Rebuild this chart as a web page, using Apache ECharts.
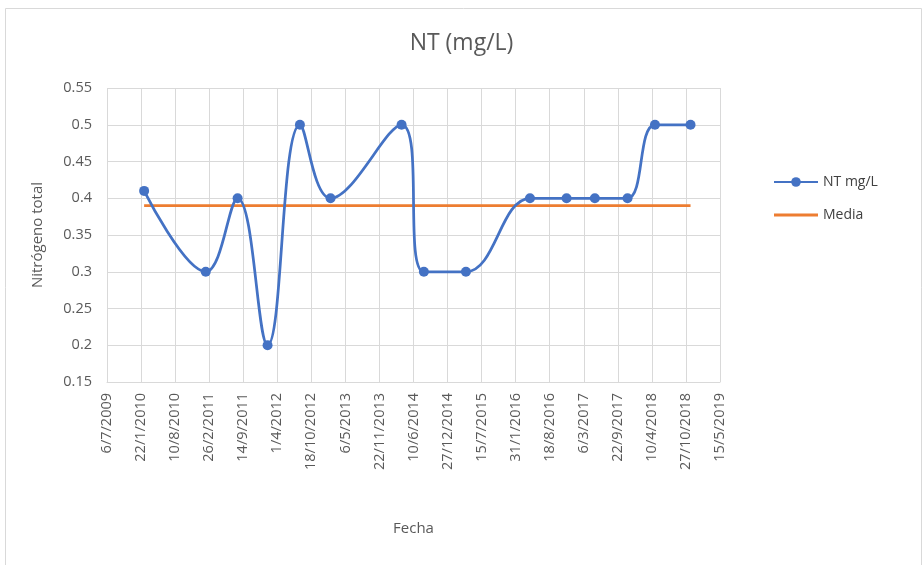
<!DOCTYPE html>
<html>
<head>
<meta charset="utf-8">
<script src="https://cdn.jsdelivr.net/npm/echarts@6/dist/echarts.min.js"></script>
<style>html,body{margin:0;padding:0;background:#fff}#c{width:923px;height:565px}</style>
</head>
<body>
<div id="c"></div>
<script>
// Data
var dates = ['2010-02-09','2011-02-06','2011-08-12','2012-02-04','2012-08-12','2013-02-08','2014-04-01','2014-08-10','2015-04-14','2016-04-24','2016-11-25','2017-05-10','2017-11-18','2018-04-28','2018-11-23'];
var ntValues = [0.41,0.30,0.40,0.20,0.50,0.40,0.50,0.30,0.30,0.40,0.40,0.40,0.40,0.50,0.50];
var mediaValues = [0.39,0.39,0.39,0.39,0.39,0.39,0.39,0.39,0.39,0.39,0.39,0.39,0.39,0.39,0.39];
var axisOrigin = '2009-07-06'; // first x tick label 6/7/2009
var xTickStepDays = 200;
var xTickCount = 18;

var DAY = 86400000;
var originMs = Date.parse(axisOrigin + 'T00:00:00Z');
function toDays(s){ return Math.round((Date.parse(s + 'T00:00:00Z') - originMs) / DAY); }
function fmtDate(days){
  var d = new Date(originMs + days * DAY);
  return d.getUTCDate() + '/' + (d.getUTCMonth() + 1) + '/' + d.getUTCFullYear();
}
var ntData = dates.map(function(s,i){ return [toDays(s), ntValues[i]]; });
var mediaData = dates.map(function(s,i){ return [toDays(s), mediaValues[i]]; });

var FONT = 'Open Sans';
var chart = echarts.init(document.getElementById('c'));
chart.setOption({
  animation: false,
  textStyle: {fontFamily: FONT},
  graphic: [{
    type: 'rect', silent: true, z: -10,
    shape: {x: 5.5, y: 8.5, width: 916, height: 560},
    style: {fill: 'none', stroke: '#d9d9d9', lineWidth: 1}
  }],
  title: {
    text: 'NT (mg/L)', left: 'center', top: 27,
    textStyle: {fontFamily: FONT, fontSize: 23, fontWeight: 'normal', color: '#595959'}
  },
  legend: {
    orient: 'vertical', left: 768, top: 170, itemGap: 19,
    itemWidth: 44, itemHeight: 12,
    textStyle: {fontFamily: FONT, fontSize: 14, color: '#404040'},
    data: [{name: 'NT mg/L'}, {name: 'Media', icon: 'path://M0,0 L44,0 L44,3 L0,3 Z'}]
  },
  grid: {left: 107, right: 203, top: 88, bottom: 183},
  xAxis: {
    type: 'value', min: 0, max: xTickStepDays * xTickCount, interval: xTickStepDays,
    name: 'Fecha', nameLocation: 'middle', nameGap: 139,
    nameTextStyle: {fontFamily: FONT, fontSize: 15, color: '#595959'},
    axisLine: {show: true, lineStyle: {color: '#d9d9d9'}},
    axisTick: {show: false},
    splitLine: {show: true, lineStyle: {color: '#d9d9d9'}},
    axisLabel: {rotate: 90, fontSize: 14.5, color: '#595959', margin: 11, formatter: function(v){ return fmtDate(v); }}
  },
  yAxis: {
    type: 'value', min: 0.15, max: 0.55, interval: 0.05,
    name: 'Nitrógeno total', nameLocation: 'middle', nameGap: 62, nameRotate: 90,
    nameTextStyle: {fontFamily: FONT, fontSize: 15, color: '#595959'},
    axisLine: {show: false}, axisTick: {show: false},
    splitLine: {show: true, lineStyle: {color: '#d9d9d9'}},
    axisLabel: {fontSize: 14.5, color: '#595959', margin: 15, formatter: function(v){ return String(Math.round(v*100)/100); }}
  },
  series: [{
    name: 'NT mg/L', type: 'line', data: ntData, smooth: 0.4,
    symbol: 'circle', symbolSize: 10,
    lineStyle: {color: '#4472C4', width: 2.75},
    itemStyle: {color: '#4472C4'},
    z: 3
  }, {
    name: 'Media', type: 'line', data: mediaData, showSymbol: false, symbol: 'none',
    lineStyle: {color: '#ED7D31', width: 2.75},
    itemStyle: {color: '#ED7D31'},
    z: 2
  }]
});
</script>
</body>
</html>
